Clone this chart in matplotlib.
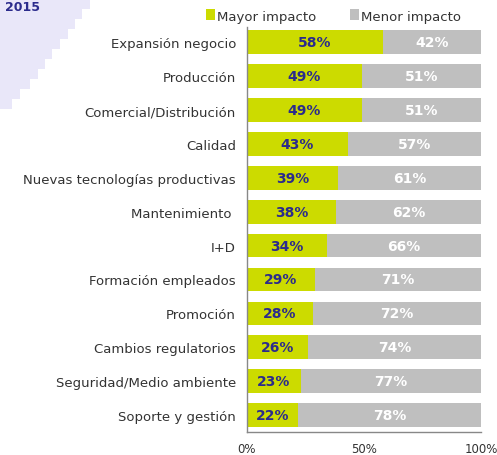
import matplotlib.pyplot as plt
import matplotlib.patches as mpatches

categorias = ['Expansión negocio', 'Producción', 'Comercial/Distribución', 'Calidad',
              'Nuevas tecnologías productivas', 'Mantenimiento ', 'I+D',
              'Formación empleados', 'Promoción', 'Cambios regulatorios',
              'Seguridad/Medio ambiente', 'Soporte y gestión']
mayor = [58, 49, 49, 43, 39, 38, 34, 29, 28, 26, 23, 22]
menor = [42, 51, 51, 57, 61, 62, 66, 71, 72, 74, 77, 78]
ticks = [0, 50, 100]
tick_labels = ['0%', '50%', '100%']

verde = '#CCDB00'
gris = '#BFBFBF'
azul = '#2B2B8C'

fig = plt.figure(figsize=(4.97, 4.56), dpi=100)

# fondo lila en escalera (esquina superior izquierda)
pasos = [(0, 0, 90, 10), (0, 10, 82, 10), (0, 20, 75, 10), (0, 30, 68, 10),
         (0, 40, 60, 10), (0, 50, 52, 10), (0, 60, 45, 10), (0, 70, 38, 10),
         (0, 80, 30, 10), (0, 90, 20, 10), (0, 100, 12, 10)]
for x0, y0, w, h in pasos:
    fig.patches.append(mpatches.Rectangle((x0 / 497, 1 - (y0 + h) / 456), w / 497, h / 456,
                                          transform=fig.transFigure, color='#E9E7F9',
                                          lw=0, zorder=0))
fig.text(5 / 497, 1 - 1 / 456, '2015', color=azul, fontsize=9, fontweight='bold',
         ha='left', va='top')

ax = fig.add_axes([247 / 497, 1 - 433 / 456, 234 / 497, 405 / 456])
ax.patch.set_alpha(0)
y = range(len(categorias))
ax.barh(y, mayor, height=0.7, color=verde, label='Mayor impacto')
ax.barh(y, menor, left=mayor, height=0.7, color=gris, label='Menor impacto')

for i in y:
    ax.text(mayor[i] / 2, i, f'{mayor[i]}%', ha='center', va='center',
            color=azul, fontsize=10, fontweight='bold')
    ax.text(mayor[i] + menor[i] / 2, i, f'{menor[i]}%', ha='center', va='center',
            color='white', fontsize=10, fontweight='bold')

ax.set_xlim(0, 100)
ax.set_ylim(11.5, -0.45)
ax.set_yticks(list(y))
ax.set_yticklabels(categorias, fontsize=9.5, color='#333333')
ax.set_xticks(ticks)
ax.set_xticklabels(tick_labels, fontsize=8.5, color='#333333')
ax.tick_params(length=0, pad=8)
ax.tick_params(axis='x', pad=7)
for s in ['top', 'right']:
    ax.spines[s].set_visible(False)
for s in ['left', 'bottom']:
    ax.spines[s].set_color('#888888')
    ax.spines[s].set_linewidth(1)

fig.legend(loc='center left', bbox_to_anchor=(206 / 497, 1 - 17 / 456), ncol=2,
           frameon=False, fontsize=9.5, handlelength=0.7, handleheight=0.9,
           handletextpad=0.1, columnspacing=2.6, borderpad=0, borderaxespad=0,
           labelcolor='#333333')

fig.savefig('out.png', dpi=100)
